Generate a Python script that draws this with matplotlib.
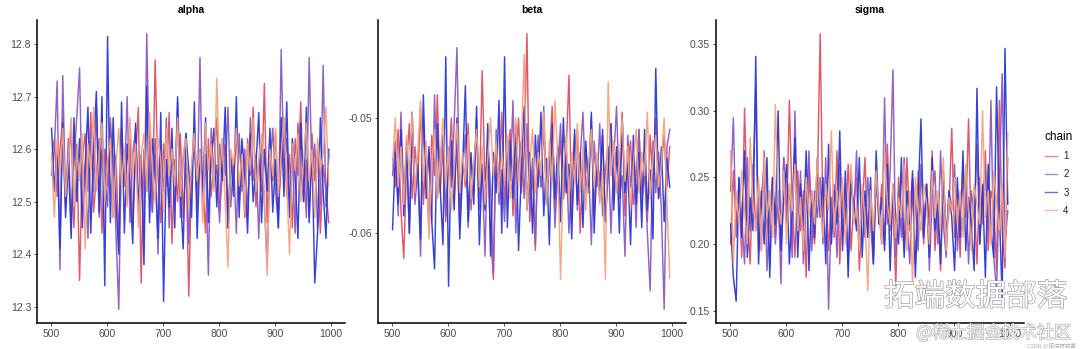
import matplotlib
matplotlib.use("Agg")
import numpy as np
import matplotlib.pyplot as plt
import matplotlib.patheffects as pe
from matplotlib.ticker import FormatStrFormatter

plt.rcParams["font.family"] = ["Liberation Sans", "Noto Sans CJK SC"]
plt.rcParams["axes.unicode_minus"] = False

# ---- draws kept every 5th iteration, 4 chains per parameter ----
start_iter = 501
thin = 5

alpha_chain1 = [
    12.58, 12.62, 12.51, 12.60, 12.66, 12.49, 12.57, 12.64, 12.45, 12.61,
    12.35, 12.58, 12.63, 12.52, 12.67, 12.48, 12.55, 12.62, 12.44, 12.60,
    12.53, 12.66, 12.47, 12.59, 12.42, 12.64, 12.55, 12.50, 12.62, 12.46,
    12.58, 12.68, 12.345, 12.60, 12.52, 12.65, 12.48, 12.77, 12.55, 12.46,
    12.61, 12.53, 12.67, 12.42, 12.58, 12.50, 12.63, 12.47, 12.59, 12.32,
    12.56, 12.64, 12.49, 12.60, 12.54, 12.44, 12.62, 12.51, 12.58, 12.66,
    12.48, 12.55, 12.61, 12.45, 12.59, 12.53, 12.64, 12.50, 12.57, 12.47,
    12.62, 12.55, 12.68, 12.49, 12.58, 12.52, 12.725, 12.46, 12.60, 12.54,
    12.63, 12.48, 12.57, 12.66, 12.51, 12.59, 12.45, 12.62, 12.55, 12.69,
    12.50, 12.58, 12.47, 12.63, 12.54, 12.60, 12.44, 12.57, 12.52, 12.46,
]
alpha_chain2 = [
    12.55, 12.60, 12.73, 12.37, 12.74, 12.50, 12.62, 12.45, 12.58, 12.66,
    12.755, 12.48, 12.57, 12.43, 12.63, 12.52, 12.68, 12.47, 12.60, 12.55,
    12.49, 12.65, 12.58, 12.44, 12.295, 12.61, 12.53, 12.70, 12.46, 12.59,
    12.64, 12.50, 12.57, 12.43, 12.82, 12.55, 12.48, 12.62, 12.40, 12.58,
    12.52, 12.66, 12.45, 12.60, 12.54, 12.69, 12.47, 12.58, 12.63, 12.42,
    12.56, 12.61, 12.50, 12.775, 12.48, 12.59, 12.36, 12.64, 12.53, 12.57,
    12.46, 12.62, 12.55, 12.68, 12.49, 12.58, 12.44, 12.63, 12.52, 12.60,
    12.47, 12.66, 12.54, 12.59, 12.43, 12.61, 12.50, 12.38, 12.57, 12.64,
    12.52, 12.45, 12.79, 12.56, 12.62, 12.48, 12.59, 12.44, 12.65, 12.53,
    12.58, 12.47, 12.775, 12.55, 12.61, 12.45, 12.50, 12.76, 12.49, 12.59,
]
alpha_chain3 = [
    12.64, 12.52, 12.60, 12.41, 12.65, 12.47, 12.58, 12.43, 12.66, 12.50,
    12.62, 12.45, 12.57, 12.68, 12.44, 12.60, 12.71, 12.48, 12.70, 12.34,
    12.815, 12.46, 12.66, 12.50, 12.40, 12.69, 12.44, 12.61, 12.53, 12.42,
    12.65, 12.48, 12.59, 12.38, 12.72, 12.46, 12.62, 12.55, 12.43, 12.67,
    12.31, 12.58, 12.49, 12.64, 12.45, 12.70, 12.52, 12.41, 12.63, 12.56,
    12.47, 12.69, 12.43, 12.60, 12.52, 12.66, 12.46, 12.58, 12.64, 12.49,
    12.61, 12.54, 12.68, 12.45, 12.59, 12.51, 12.70, 12.47, 12.62, 12.55,
    12.44, 12.63, 12.50, 12.57, 12.67, 12.46, 12.60, 12.52, 12.64, 12.48,
    12.58, 12.45, 12.66, 12.51, 12.69, 12.47, 12.62, 12.55, 12.43, 12.65,
    12.50, 12.68, 12.46, 12.60, 12.345, 12.44, 12.66, 12.52, 12.43, 12.60,
]
alpha_chain4 = [
    12.59, 12.47, 12.62, 12.55, 12.64, 12.51, 12.58, 12.66, 12.49, 12.60,
    12.54, 12.63, 12.41, 12.61, 12.56, 12.68, 12.52, 12.59, 12.65, 12.50,
    12.58, 12.62, 12.47, 12.57, 12.64, 12.53, 12.60, 12.49, 12.66, 12.55,
    12.61, 12.45, 12.59, 12.63, 12.52, 12.67, 12.56, 12.50, 12.62, 12.58,
    12.48, 12.64, 12.55, 12.60, 12.53, 12.66, 12.51, 12.59, 12.62, 12.49,
    12.57, 12.63, 12.54, 12.60, 12.46, 12.65, 12.56, 12.61, 12.52, 12.735,
    12.55, 12.62, 12.50, 12.375, 12.60, 12.57, 12.64, 12.53, 12.59, 12.48,
    12.61, 12.56, 12.66, 12.52, 12.58, 12.63, 12.50, 12.36, 12.60, 12.55,
    12.64, 12.51, 12.59, 12.66, 12.53, 12.40, 12.61, 12.56, 12.63, 12.50,
    12.58, 12.65, 12.54, 12.60, 12.47, 12.62, 12.56, 12.59, 12.68, 12.53,
]

beta_chain1 = [
    -0.0535, -0.0560, -0.0510, -0.0580, -0.0622, -0.0540, -0.0505, -0.0570, -0.0525, -0.0555,
    -0.0490, -0.0575, -0.0530, -0.0600, -0.0515, -0.0550, -0.0480, -0.0565, -0.0525, -0.0590,
    -0.0545, -0.0500, -0.0570, -0.0520, -0.0595, -0.0535, -0.0560, -0.0505, -0.0580, -0.0540,
    -0.0515, -0.0570, -0.0459, -0.0555, -0.0530, -0.0600, -0.0640, -0.0520, -0.0560, -0.0495,
    -0.0575, -0.0535, -0.0510, -0.0585, -0.0540, -0.0500, -0.0565, -0.0530, -0.0427, -0.0590,
    -0.0545, -0.0615, -0.0520, -0.0560, -0.0505, -0.0575, -0.0535, -0.0490, -0.0580, -0.0550,
    -0.0520, -0.0570, -0.0530, -0.0463, -0.0585, -0.0545, -0.0510, -0.0600, -0.0540, -0.0525,
    -0.0565, -0.0500, -0.0580, -0.0535, -0.0555, -0.0515, -0.0590, -0.0545, -0.0505, -0.0570,
    -0.0530, -0.0560, -0.0495, -0.0585, -0.0540, -0.0520, -0.0575, -0.0550, -0.0510, -0.0565,
    -0.0535, -0.0590, -0.0515, -0.0555, -0.0500, -0.0570, -0.0540, -0.0515, -0.0560, -0.0525,
]
beta_chain2 = [
    -0.0550, -0.0520, -0.0585, -0.0495, -0.0565, -0.0530, -0.0600, -0.0510, -0.0575, -0.0545,
    -0.0620, -0.0500, -0.0560, -0.0530, -0.0590, -0.0480, -0.0570, -0.0540, -0.0515, -0.0585,
    -0.0525, -0.0560, -0.0505, -0.0439, -0.0580, -0.0545, -0.0515, -0.0595, -0.0535, -0.0565,
    -0.0500, -0.0580, -0.0540, -0.0620, -0.0520, -0.0560, -0.0635, -0.0510, -0.0575, -0.0545,
    -0.0590, -0.0530, -0.0555, -0.0485, -0.0600, -0.0540, -0.0520, -0.0570, -0.0505, -0.0580,
    -0.0535, -0.0610, -0.0515, -0.0560, -0.0490, -0.0575, -0.0540, -0.0525, -0.0595, -0.0545,
    -0.0505, -0.0570, -0.0530, -0.0600, -0.0550, -0.0515, -0.0580, -0.0535, -0.0495, -0.0565,
    -0.0540, -0.0610, -0.0520, -0.0560, -0.0505, -0.0585, -0.0545, -0.0525, -0.0600, -0.0535,
    -0.0490, -0.0570, -0.0550, -0.0620, -0.0515, -0.0560, -0.0535, -0.0595, -0.0510, -0.0575,
    -0.0545, -0.0600, -0.0650, -0.0520, -0.0565, -0.0530, -0.0580, -0.0666, -0.0525, -0.0510,
]
beta_chain3 = [
    -0.0597, -0.0530, -0.0575, -0.0510, -0.0585, -0.0520, -0.0600, -0.0495, -0.0565, -0.0540,
    -0.0605, -0.0480, -0.0570, -0.0525, -0.0590, -0.0631, -0.0505, -0.0560, -0.0610, -0.0447,
    -0.0646, -0.0520, -0.0580, -0.0500, -0.0605, -0.0545, -0.0472, -0.0590, -0.0530, -0.0575,
    -0.0490, -0.0610, -0.0540, -0.0580, -0.0505, -0.0620, -0.0530, -0.0565, -0.0485, -0.0600,
    -0.0447, -0.0595, -0.0520, -0.0570, -0.0505, -0.0615, -0.0545, -0.0490, -0.0580, -0.0530,
    -0.0600, -0.0515, -0.0560, -0.0495, -0.0585, -0.0535, -0.0610, -0.0505, -0.0570, -0.0525,
    -0.0590, -0.0500, -0.0565, -0.0540, -0.0605, -0.0510, -0.0575, -0.0530, -0.0595, -0.0520,
    -0.0560, -0.0495, -0.0600, -0.0535, -0.0570, -0.0510, -0.0590, -0.0545, -0.0505, -0.0580,
    -0.0525, -0.0600, -0.0500, -0.0565, -0.0540, -0.0610, -0.0515, -0.0575, -0.0530, -0.0595,
    -0.0510, -0.0580, -0.0545, -0.0605, -0.0457, -0.0570, -0.0525, -0.0590, -0.0535, -0.0560,
]
beta_chain4 = [
    -0.0540, -0.0500, -0.0560, -0.0525, -0.0575, -0.0515, -0.0550, -0.0495, -0.0565, -0.0530,
    -0.0485, -0.0555, -0.0520, -0.0605, -0.0540, -0.0510, -0.0570, -0.0535, -0.0500, -0.0560,
    -0.0525, -0.0580, -0.0545, -0.0505, -0.0565, -0.0530, -0.0555, -0.0515, -0.0570, -0.0540,
    -0.0510, -0.0560, -0.0525, -0.0575, -0.0535, -0.0500, -0.0550, -0.0520, -0.0565, -0.0530,
    -0.0555, -0.0515, -0.0570, -0.0535, -0.0500, -0.0560, -0.0525, -0.0445, -0.0580, -0.0540,
    -0.0510, -0.0565, -0.0530, -0.0550, -0.0495, -0.0575, -0.0520, -0.0555, -0.0485, -0.0535,
    -0.0640, -0.0545, -0.0515, -0.0570, -0.0530, -0.0555, -0.0505, -0.0565, -0.0525, -0.0580,
    -0.0540, -0.0510, -0.0560, -0.0530, -0.0575, -0.0545, -0.0640, -0.0469, -0.0550, -0.0520,
    -0.0565, -0.0535, -0.0500, -0.0555, -0.0525, -0.0580, -0.0540, -0.0510, -0.0565, -0.0530,
    -0.0550, -0.0495, -0.0570, -0.0535, -0.0515, -0.0560, -0.0540, -0.0500, -0.0575, -0.0639,
]

sigma_chain1 = [
    0.200, 0.255, 0.215, 0.240, 0.190, 0.302, 0.225, 0.185, 0.260, 0.210,
    0.245, 0.195, 0.270, 0.220, 0.185, 0.250, 0.205, 0.235, 0.195, 0.265,
    0.215, 0.308, 0.230, 0.190, 0.255, 0.210, 0.240, 0.175, 0.260, 0.220,
    0.200, 0.245, 0.358, 0.215, 0.250, 0.195, 0.235, 0.205, 0.270, 0.185,
    0.240, 0.215, 0.260, 0.195, 0.230, 0.250, 0.180, 0.225, 0.265, 0.205,
    0.235, 0.190, 0.255, 0.215, 0.245, 0.200, 0.275, 0.210, 0.230, 0.168,
    0.250, 0.220, 0.195, 0.265, 0.210, 0.240, 0.185, 0.255, 0.225, 0.200,
    0.245, 0.215, 0.270, 0.195, 0.235, 0.180, 0.250, 0.210, 0.225, 0.287,
    0.205, 0.240, 0.190, 0.260, 0.220, 0.294, 0.200, 0.235, 0.185, 0.250,
    0.215, 0.270, 0.195, 0.240, 0.230, 0.180, 0.308, 0.210, 0.182, 0.265,
]
sigma_chain2 = [
    0.240, 0.295, 0.205, 0.250, 0.220, 0.185, 0.265, 0.210, 0.245, 0.316,
    0.195, 0.235, 0.260, 0.180, 0.225, 0.250, 0.200, 0.240, 0.170, 0.265,
    0.215, 0.245, 0.190, 0.300, 0.210, 0.255, 0.185, 0.230, 0.270, 0.195,
    0.240, 0.220, 0.250, 0.200, 0.265, 0.151, 0.225, 0.245, 0.190, 0.260,
    0.210, 0.235, 0.185, 0.255, 0.220, 0.270, 0.195, 0.240, 0.205, 0.250,
    0.215, 0.185, 0.245, 0.225, 0.200, 0.310, 0.215, 0.255, 0.331, 0.190,
    0.240, 0.205, 0.265, 0.220, 0.185, 0.250, 0.230, 0.195, 0.260, 0.210,
    0.245, 0.180, 0.235, 0.255, 0.200, 0.270, 0.215, 0.190, 0.240, 0.225,
    0.260, 0.195, 0.230, 0.210, 0.250, 0.185, 0.240, 0.220, 0.275, 0.200,
    0.235, 0.255, 0.210, 0.308, 0.190, 0.165, 0.245, 0.328, 0.200, 0.225,
]
sigma_chain3 = [
    0.215, 0.175, 0.157, 0.250, 0.205, 0.270, 0.190, 0.235, 0.210, 0.341,
    0.185, 0.240, 0.200, 0.265, 0.175, 0.250, 0.215, 0.300, 0.195, 0.235,
    0.260, 0.185, 0.225, 0.280, 0.190, 0.245, 0.210, 0.270, 0.180, 0.240,
    0.205, 0.265, 0.220, 0.250, 0.185, 0.275, 0.200, 0.240, 0.215, 0.285,
    0.195, 0.255, 0.175, 0.245, 0.230, 0.210, 0.265, 0.190, 0.240, 0.205,
    0.250, 0.185, 0.270, 0.215, 0.235, 0.195, 0.260, 0.180, 0.245, 0.220,
    0.200, 0.265, 0.190, 0.240, 0.215, 0.255, 0.175, 0.235, 0.294, 0.205,
    0.245, 0.190, 0.265, 0.210, 0.230, 0.185, 0.255, 0.200, 0.240, 0.220,
    0.180, 0.250, 0.205, 0.270, 0.195, 0.235, 0.215, 0.180, 0.317, 0.200,
    0.245, 0.175, 0.260, 0.210, 0.190, 0.318, 0.225, 0.159, 0.347, 0.230,
]
sigma_chain4 = [
    0.270, 0.185, 0.240, 0.215, 0.255, 0.225, 0.200, 0.280, 0.230, 0.210,
    0.250, 0.195, 0.265, 0.220, 0.240, 0.205, 0.305, 0.230, 0.215, 0.255,
    0.200, 0.245, 0.225, 0.260, 0.210, 0.235, 0.195, 0.250, 0.220, 0.240,
    0.215, 0.265, 0.230, 0.205, 0.245, 0.225, 0.285, 0.210, 0.240, 0.220,
    0.250, 0.200, 0.235, 0.260, 0.215, 0.230, 0.195, 0.245, 0.220, 0.165,
    0.240, 0.210, 0.255, 0.225, 0.200, 0.270, 0.230, 0.215, 0.245, 0.205,
    0.235, 0.220, 0.260, 0.195, 0.240, 0.170, 0.250, 0.225, 0.210, 0.245,
    0.230, 0.200, 0.255, 0.220, 0.240, 0.210, 0.265, 0.195, 0.235, 0.225,
    0.250, 0.215, 0.240, 0.205, 0.260, 0.225, 0.195, 0.245, 0.230, 0.215,
    0.300, 0.220, 0.240, 0.200, 0.255, 0.230, 0.210, 0.245, 0.190, 0.283,
]

params = ["alpha", "beta", "sigma"]
chains = ["1", "2", "3", "4"]
traces = {
    "alpha": [alpha_chain1, alpha_chain2, alpha_chain3, alpha_chain4],
    "beta": [beta_chain1, beta_chain2, beta_chain3, beta_chain4],
    "sigma": [sigma_chain1, sigma_chain2, sigma_chain3, sigma_chain4],
}
x_ticks = [500, 600, 700, 800, 900, 1000]
y_ticks = {
    "alpha": [12.3, 12.4, 12.5, 12.6, 12.7, 12.8],
    "beta": [-0.06, -0.05],
    "sigma": [0.15, 0.20, 0.25, 0.30, 0.35],
}
y_fmt = {"alpha": "%.1f", "beta": "%.2f", "sigma": "%.2f"}

chain_colors = ["#E14F63", "#8A5BC2", "#2A39D4", "#F5A37F"]
tick_grey = "#4D4D4D"

fig = plt.figure(figsize=(10.8, 3.49), dpi=100)
fig.patch.set_facecolor("white")

panel_left = [37, 378, 716]
W, H = 1080.0, 349.0
handles = []
for k, p in enumerate(params):
    ax = fig.add_axes([panel_left[k] / W, 1 - 323 / H, 308 / W, 303 / H])
    for c, vals in enumerate(traces[p]):
        x = np.arange(start_iter, start_iter + thin * len(vals), thin)
        line, = ax.plot(x, vals, color=chain_colors[c], lw=1.05, alpha=0.95)
        if k == 0:
            handles.append(line)

    ax.set_xlim(475, 1025)
    allv = np.concatenate([np.asarray(v) for v in traces[p]])
    span = allv.max() - allv.min()
    ax.set_ylim(allv.min() - 0.05 * span, allv.max() + 0.05 * span)
    ax.set_xticks(x_ticks)
    ax.set_yticks(y_ticks[p])
    ax.yaxis.set_major_formatter(FormatStrFormatter(y_fmt[p]))

    ax.spines["top"].set_visible(False)
    ax.spines["right"].set_visible(False)
    for s in ("left", "bottom"):
        ax.spines[s].set_linewidth(1.1)
        ax.spines[s].set_color("black")
    ax.tick_params(axis="both", direction="out", length=2.2, width=0.6,
                   color="#333333", labelcolor=tick_grey, labelsize=7.5,
                   pad=2)
    ax.set_title(p, fontsize=7.5, fontweight="bold", pad=5)

leg = fig.legend(handles, chains, title="chain", loc="upper left",
                 bbox_to_anchor=(1036 / W, 1 - 122 / H), frameon=False,
                 fontsize=7, title_fontsize=8.5, handlelength=1.3,
                 handletextpad=0.6, labelspacing=0.85)
leg._legend_box.align = "left"
for t in leg.get_texts():
    t.set_color("#222222")
for h in leg.legend_handles:
    h.set_alpha(0.7)
    h.set_linewidth(1.0)

# watermark text
fig.text(884 / W, 1 - 297 / H, "拓端数据部落", family=["Noto Sans CJK SC"],
         fontsize=22, color="white", va="center", ha="left",
         path_effects=[pe.withStroke(linewidth=1.0, foreground="#A0A0A0")])
fig.text(916 / W, 1 - 333 / H, "@稀土掘金技术社区", family=["Noto Sans CJK SC"],
         fontsize=12.5, color="white", va="center", ha="left", alpha=0.9,
         path_effects=[pe.withStroke(linewidth=0.9, foreground="#A8A8A8")])
fig.text(1076 / W, 1 - 345 / H, "CSDN @拓端研究室", family=["Noto Sans CJK SC"],
         fontsize=4, color="#B0B0B0", va="center", ha="right")

fig.savefig("out.png", dpi=100, facecolor="white")
